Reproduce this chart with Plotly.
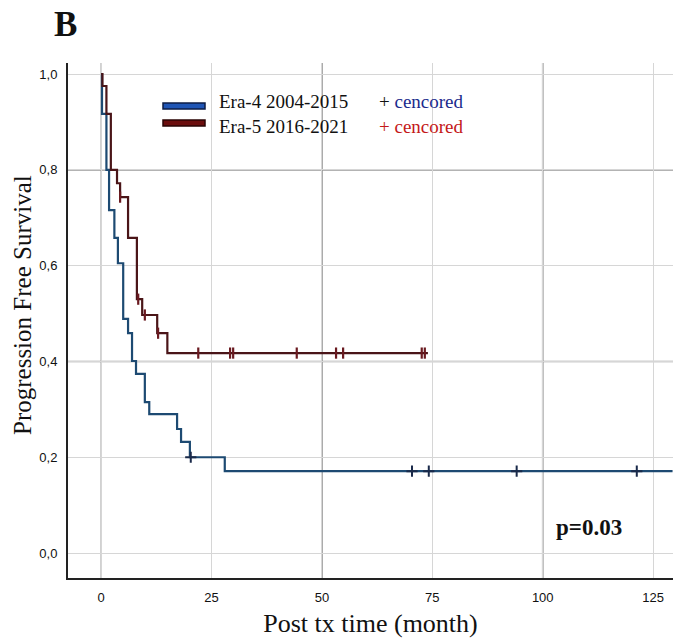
import plotly.graph_objects as go

# Kaplan-Meier step curves: (time in months, survival level after the step)
era4_time = [0, 0.2, 1.2, 1.8, 3.0, 3.8, 5.0, 6.1, 7.0, 7.9, 9.9, 10.9, 17.2, 18.1, 20.1, 28.0, 129.4]
era4_surv = [1.0, 0.917, 0.80, 0.716, 0.658, 0.605, 0.489, 0.459, 0.401, 0.374, 0.315, 0.29, 0.259, 0.232, 0.2, 0.171, 0.171]
era4_cens_time = [20.3, 70.4, 74.2, 94.1, 121.3]
era4_cens_surv = [0.2, 0.171, 0.171, 0.171, 0.171]

era5_time = [0, 0.3, 1.2, 2.2, 3.6, 4.3, 6.1, 8.1, 9.3, 12.7, 15.0, 74.0]
era5_surv = [1.0, 0.975, 0.917, 0.80, 0.772, 0.743, 0.658, 0.53, 0.497, 0.459, 0.4175, 0.4175]
era5_cens_time = [4.3, 8.4, 9.9, 12.9, 22.0, 29.2, 29.9, 44.3, 53.2, 54.8, 72.6, 73.3]
era5_cens_surv = [0.743, 0.53, 0.497, 0.459, 0.4175, 0.4175, 0.4175, 0.4175, 0.4175, 0.4175, 0.4175, 0.4175]

x_ticks = [0, 25, 50, 75, 100, 125]
y_ticks = [0.0, 0.2, 0.4, 0.6, 0.8, 1.0]
y_tick_text = ["0,0", "0,2", "0,4", "0,6", "0,8", "1,0"]

BLUE_LINE = "#1d4a72"
RED_LINE = "#4a1518"
SERIF = "Liberation Serif, Times New Roman, serif"
SANS = "Liberation Sans, Arial, sans-serif"

W, H = 689, 638
L, R, T, B = 68, 16, 63, 60


def px(x):
    return (x - L) / (W - L - R)


def py(y):
    return (H - B - y) / (H - T - B)


fig = go.Figure()

fig.add_trace(go.Scatter(x=era4_time, y=era4_surv, mode="lines", line_shape="hv",
                         line=dict(color=BLUE_LINE, width=2.2), showlegend=False, hoverinfo="skip"))
fig.add_trace(go.Scatter(x=era5_time, y=era5_surv, mode="lines", line_shape="hv",
                         line=dict(color=RED_LINE, width=2.2), showlegend=False, hoverinfo="skip"))
fig.add_trace(go.Scatter(x=era4_cens_time, y=era4_cens_surv, mode="markers",
                         marker=dict(symbol="cross-thin", size=8, line=dict(color="#1a2a4a", width=2)),
                         showlegend=False, hoverinfo="skip"))
fig.add_trace(go.Scatter(x=era5_cens_time, y=era5_cens_surv, mode="markers",
                         marker=dict(symbol="line-ns", size=8, line=dict(color="#6a1a20", width=2.2)),
                         showlegend=False, hoverinfo="skip"))

shapes = []
# stronger grid lines every 50 months / 0.4 survival
for xv in [50, 100]:
    shapes.append(dict(type="line", xref="x", yref="paper", x0=xv, x1=xv, y0=0, y1=1,
                       line=dict(color="#8a8a8a", width=1.6), layer="below"))
shapes.append(dict(type="line", xref="x", yref="paper", x0=0, x1=0, y0=0, y1=1,
                   line=dict(color="#b0b0b0", width=1.4), layer="below"))
for yv in [0.4, 0.8]:
    shapes.append(dict(type="line", xref="paper", yref="y", x0=0, x1=1, y0=yv, y1=yv,
                       line=dict(color="#9a9a9a", width=1.6), layer="below"))

# legend swatches
shapes.append(dict(type="rect", xref="paper", yref="paper", x0=px(163), x1=px(205), y0=py(109), y1=py(103),
                   fillcolor="#1f55b5", line=dict(color="#0c1d45", width=1.5)))
shapes.append(dict(type="rect", xref="paper", yref="paper", x0=px(163), x1=px(205), y0=py(126), y1=py(120),
                   fillcolor="#6b0d0d", line=dict(color="#2a0505", width=1.5)))

LEG = 19
annotations = [
    dict(text="<b>B</b>", xref="paper", yref="paper", x=px(52), y=py(25), xanchor="left", yanchor="middle",
         showarrow=False, font=dict(family=SERIF, size=35, color="#111")),
    dict(text="Progression Free Survival", xref="paper", yref="paper", x=px(22), y=py(305),
         xanchor="center", yanchor="middle", textangle=-90, showarrow=False,
         font=dict(family=SERIF, size=25, color="#111")),
    dict(text="Era-4 2004-2015", xref="paper", yref="paper", x=px(217), y=py(101), xanchor="left",
         yanchor="middle", showarrow=False, font=dict(family=SERIF, size=LEG, color="#111")),
    dict(text="Era-5 2016-2021", xref="paper", yref="paper", x=px(217), y=py(127), xanchor="left",
         yanchor="middle", showarrow=False, font=dict(family=SERIF, size=LEG, color="#111")),
    dict(text="<span style='color:#111'>+</span> cencored", xref="paper", yref="paper", x=px(377), y=py(101),
         xanchor="left", yanchor="middle", showarrow=False, font=dict(family=SERIF, size=LEG, color="#1a2a8c")),
    dict(text="+ cencored", xref="paper", yref="paper", x=px(377), y=py(127),
         xanchor="left", yanchor="middle", showarrow=False, font=dict(family=SERIF, size=LEG, color="#c41818")),
    dict(text="<b>p=0.03</b>", xref="paper", yref="paper", x=px(589), y=py(527), xanchor="center",
         yanchor="middle", showarrow=False, font=dict(family=SERIF, size=23, color="#111")),
]

fig.update_layout(
    width=W, height=H,
    margin=dict(l=L, r=R, t=T, b=B),
    paper_bgcolor="white", plot_bgcolor="white",
    shapes=shapes, annotations=annotations,
    xaxis=dict(range=[-7.5, 129.5], tickvals=x_ticks, ticktext=[str(v) for v in x_ticks],
               showgrid=True, gridcolor="#d6d6d6", gridwidth=1.2, zeroline=False, automargin=False,
               showline=True, linecolor="#222", linewidth=2, ticks="", ticklabelstandoff=6,
               tickfont=dict(family=SANS, size=13, color="#111"),
               title=dict(text="Post tx time (month)", font=dict(family=SERIF, size=26, color="#111"),
                          standoff=10)),
    yaxis=dict(range=[-0.052, 1.023], tickvals=y_ticks, ticktext=y_tick_text,
               showgrid=True, gridcolor="#d6d6d6", gridwidth=1.2, zeroline=False, automargin=False,
               showline=True, linecolor="#222", linewidth=2, ticks="", ticklabelstandoff=6,
               tickfont=dict(family=SANS, size=13, color="#111")),
)

fig.write_html("out.html")
